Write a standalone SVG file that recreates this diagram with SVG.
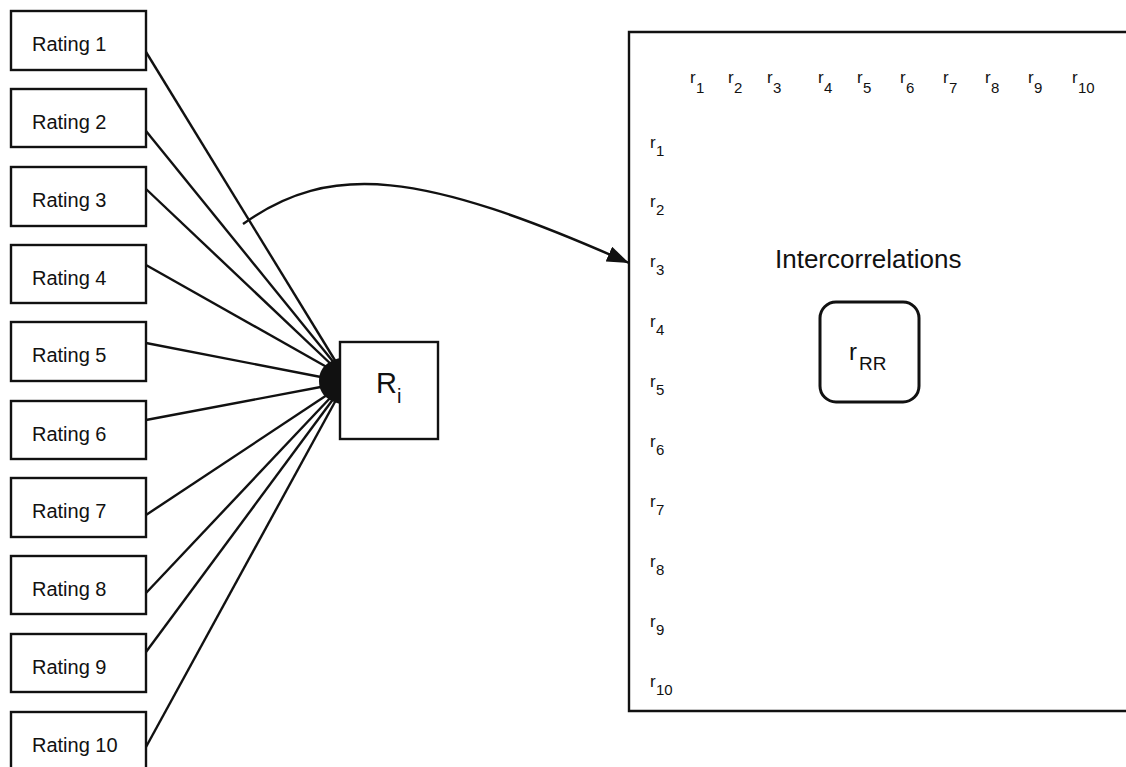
<svg xmlns="http://www.w3.org/2000/svg" width="1126" height="767" viewBox="0 0 1126 767">
  <style>
    .box { fill: #ffffff; stroke: #111111; stroke-width: 2.4; }
    .lbl { font-family: "Liberation Sans", Arial, sans-serif; fill: #111111; }
    .rating { font-size: 20px; }
    .r { font-size: 17px; }
    .sub { font-size: 15px; }
    .wire { stroke: #111111; stroke-width: 2.4; fill: none; }
  </style>
  <defs>
    <marker id="arrowhead" markerUnits="userSpaceOnUse" markerWidth="24" markerHeight="16" refX="22" refY="8" orient="auto">
      <path d="M0,0 L22,8 L0,16 Z" fill="#111111"/>
    </marker>
  </defs>
  <rect width="1126" height="767" fill="#ffffff"/>

  <!-- rating inputs -->
  <g id="rating-1"><rect class="box" x="11" y="11" width="135" height="59"/><text class="lbl rating" x="32" y="51">Rating 1</text></g>
  <g id="rating-2"><rect class="box" x="11" y="89" width="135" height="58"/><text class="lbl rating" x="32" y="129">Rating 2</text></g>
  <g id="rating-3"><rect class="box" x="11" y="167" width="135" height="59"/><text class="lbl rating" x="32" y="207">Rating 3</text></g>
  <g id="rating-4"><rect class="box" x="11" y="245" width="135" height="58"/><text class="lbl rating" x="32" y="285">Rating 4</text></g>
  <g id="rating-5"><rect class="box" x="11" y="322" width="135" height="59"/><text class="lbl rating" x="32" y="362">Rating 5</text></g>
  <g id="rating-6"><rect class="box" x="11" y="401" width="135" height="58"/><text class="lbl rating" x="32" y="441">Rating 6</text></g>
  <g id="rating-7"><rect class="box" x="11" y="478" width="135" height="59"/><text class="lbl rating" x="32" y="518">Rating 7</text></g>
  <g id="rating-8"><rect class="box" x="11" y="556" width="135" height="58"/><text class="lbl rating" x="32" y="596">Rating 8</text></g>
  <g id="rating-9"><rect class="box" x="11" y="634" width="135" height="58"/><text class="lbl rating" x="32" y="674">Rating 9</text></g>
  <g id="rating-10"><rect class="box" x="11" y="712" width="135" height="70"/><text class="lbl rating" x="32" y="752">Rating 10</text></g>

  <!-- combined rating -->
  <g id="r-i">
    <rect class="box" x="340" y="342" width="98" height="97"/>
    <text class="lbl" x="376" y="393" font-size="29px">R</text>
    <text class="lbl" x="397" y="403" font-size="20px">i</text>
  </g>

  <!-- correlation matrix -->
  <g id="matrix">
    <path d="M1140,32 L629,32 L629,711 L1140,711" class="box" fill="none"/>
    <g class="lbl">
      <text x="690" y="83" class="r">r</text><text x="696" y="93" class="sub">1</text>
      <text x="728" y="83" class="r">r</text><text x="734" y="93" class="sub">2</text>
      <text x="767" y="83" class="r">r</text><text x="773" y="93" class="sub">3</text>
      <text x="818" y="83" class="r">r</text><text x="824" y="93" class="sub">4</text>
      <text x="857" y="83" class="r">r</text><text x="863" y="93" class="sub">5</text>
      <text x="900" y="83" class="r">r</text><text x="906" y="93" class="sub">6</text>
      <text x="943" y="83" class="r">r</text><text x="949" y="93" class="sub">7</text>
      <text x="985" y="83" class="r">r</text><text x="991" y="93" class="sub">8</text>
      <text x="1028" y="83" class="r">r</text><text x="1034" y="93" class="sub">9</text>
      <text x="1072" y="83" class="r">r</text><text x="1078" y="93" class="sub">10</text>

      <text x="650" y="148" class="r">r</text><text x="656" y="156" class="sub">1</text>
      <text x="650" y="207" class="r">r</text><text x="656" y="215" class="sub">2</text>
      <text x="650" y="267" class="r">r</text><text x="656" y="275" class="sub">3</text>
      <text x="650" y="327" class="r">r</text><text x="656" y="335" class="sub">4</text>
      <text x="650" y="387" class="r">r</text><text x="656" y="395" class="sub">5</text>
      <text x="650" y="447" class="r">r</text><text x="656" y="455" class="sub">6</text>
      <text x="650" y="507" class="r">r</text><text x="656" y="515" class="sub">7</text>
      <text x="650" y="567" class="r">r</text><text x="656" y="575" class="sub">8</text>
      <text x="650" y="627" class="r">r</text><text x="656" y="635" class="sub">9</text>
      <text x="650" y="687" class="r">r</text><text x="656" y="695" class="sub">10</text>
    </g>
    <text class="lbl" x="775" y="268" font-size="26px">Intercorrelations</text>
  </g>

  <g id="r-rr">
    <rect x="820" y="302" width="99" height="100" rx="16" ry="16" fill="#ffffff" stroke="#111111" stroke-width="3"/>
    <text class="lbl" x="849" y="360" font-size="24px">r</text>
    <text class="lbl" x="859" y="370" font-size="19px">RR</text>
  </g>

  <!-- connectors -->
  <g id="connectors">
    <line class="wire" x1="146" y1="52" x2="336" y2="362"/>
    <line class="wire" x1="146" y1="131" x2="335" y2="364"/>
    <line class="wire" x1="146" y1="189" x2="334" y2="367"/>
    <line class="wire" x1="146" y1="265" x2="332" y2="370"/>
    <line class="wire" x1="146" y1="343" x2="326" y2="378"/>
    <line class="wire" x1="146" y1="420" x2="326" y2="386"/>
    <line class="wire" x1="146" y1="515" x2="330" y2="393"/>
    <line class="wire" x1="146" y1="593" x2="332" y2="396"/>
    <line class="wire" x1="146" y1="652" x2="334" y2="398"/>
    <line class="wire" x1="146" y1="747" x2="336" y2="400"/>
    <path d="M340,358 C324,362 319,371 319,381 C319,392 325,400 340,404 Z" fill="#111111"/>
    <path class="wire" d="M243,224 C330,162 420,170 629,263" marker-end="url(#arrowhead)"/>
  </g>
</svg>
